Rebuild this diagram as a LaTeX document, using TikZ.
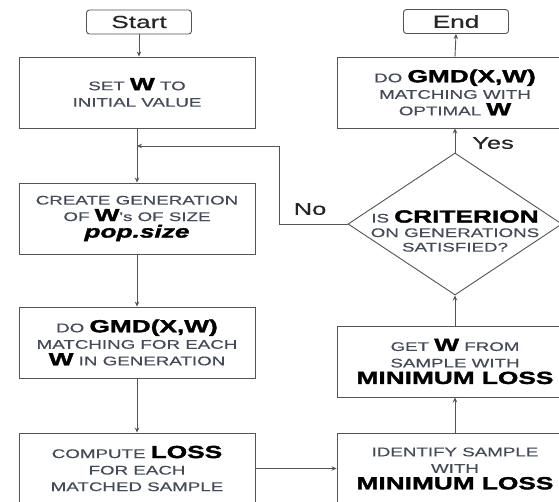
\documentclass[tikz,border=0pt]{standalone}
\usepackage{fontspec}
\usetikzlibrary{arrows.meta,shapes.geometric}
\newfontfamily\rfont[FakeStretch=1.5,UprightFeatures={FakeBold=0.4},BoldFeatures={FakeBold=2},BoldItalicFeatures={FakeBold=2}]{Liberation Sans}
\definecolor{txtgray}{rgb}{0.27,0.29,0.34}
\definecolor{linegray}{rgb}{0.33,0.33,0.33}
\newcommand{\bigb}[1]{{\fontsize{17.5}{16.5}\selectfont\bfseries\color{black}#1}}
\newcommand{\bigbi}[1]{{\fontsize{17.5}{16.5}\selectfont\bfseries\itshape\color{black}#1}}
\tikzset{
  box/.style={draw=linegray,line width=0.9pt,minimum width=236pt,minimum height=71pt,
    align=center,inner sep=0pt,text=txtgray,font=\rfont\fontsize{12.5}{16.5}\selectfont},
  term/.style={draw=linegray,line width=0.9pt,rounded corners=3pt,minimum width=105pt,
    minimum height=24pt,inner sep=0pt,font=\rfont\fontsize{17.5}{20}\selectfont,text=black!85},
  dia/.style={draw=linegray,line width=0.9pt,diamond,minimum width=214pt,minimum height=142pt,
    inner sep=0pt,text=txtgray},
  conn/.style={draw=linegray,line width=0.9pt,-{Stealth[length=5pt,width=4.5pt]}},
  lbl/.style={font=\rfont\fontsize{17}{20}\selectfont,text=black!85,inner sep=0pt}
}
\begin{document}
\begin{tikzpicture}[x=1pt,y=-1pt]
\useasboundingbox (0,0) rectangle (559,502);
\clip (0,0) rectangle (559,502);
\fill[white] (0,0) rectangle (559,502);
% left column
\node[term] (start) at (139,22) {Start};
\node[box] (b1) at (137,92.5) {SET \bigb{W} TO\\INITIAL VALUE};
\node[box] (b2) at (137,218.5) {CREATE GENERATION\\OF \bigb{W}'s OF SIZE\\\bigbi{pop.size}};
\node[box] (b3) at (137,342.5) {DO \bigb{GMD(X,W)}\\MATCHING FOR EACH\\\bigb{W} IN GENERATION};
\node[box] (b4) at (137,468.5) {COMPUTE \bigb{LOSS}\\FOR EACH\\MATCHED SAMPLE};
% right column
\node[term] (end) at (456,21.5) {End};
\node[box] (b6) at (455,92.5) {DO \bigb{GMD(X,W)}\\MATCHING WITH\\OPTIMAL \bigb{W}};
\node[dia] (d) at (455,224) {};
\node[align=center,inner sep=0pt,text=txtgray,font=\rfont\fontsize{12.5}{14.5}\selectfont] (dt) at (455,231)
  {IS \bigb{CRITERION}\\ON GENERATIONS\\SATISFIED?};
\node[box] (b7) at (455,361.5) {GET \bigb{W} FROM\\SAMPLE WITH\\\bigb{MINIMUM LOSS}};
\node[box] (b8) at (455,468.5) {IDENTIFY SAMPLE\\WITH\\\bigb{MINIMUM LOSS}};
% labels
\node[lbl] (yes) at (493,143) {Yes};
\node[lbl] (no) at (310,209) {No};
% junction coordinates
\coordinate (j) at (137,146);
\coordinate (c1) at (279,224);
\coordinate (c2) at (279,146);
% connectors
\draw[conn] (start) -- (start.south |- b1.north);
\draw[draw=linegray,line width=0.9pt] (b1.south) -- (j);
\draw[conn] (j) -- (b2.north);
\draw[conn] (b2) -- (b3);
\draw[conn] (b3) -- (b4);
\draw[conn] (b4.east) -- (b8.west);
\draw[conn] (b8) -- (b7);
\draw[conn] (b7.north) -- (d.south);
\draw[conn] (d.north) -- (b6.south);
\draw[conn] (b6.north) -- (end.south);
\draw[conn] (d.west) -- (c1) -- (c2) -- (j);
\end{tikzpicture}
\end{document}
